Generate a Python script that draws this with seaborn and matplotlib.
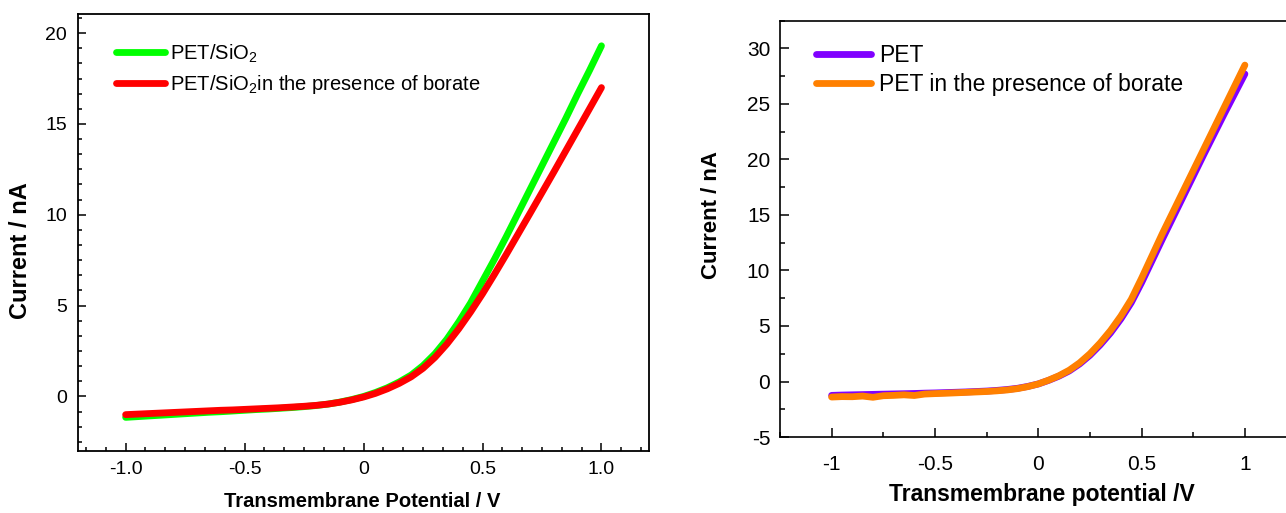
import matplotlib
matplotlib.use("Agg")
import matplotlib.pyplot as plt
import seaborn as sns
from matplotlib.ticker import FixedLocator, FixedFormatter, AutoMinorLocator

# ---- data -----------------------------------------------------------------
potential = [-1.00, -0.95, -0.90, -0.85, -0.80, -0.75, -0.70, -0.65, -0.60, -0.55,
             -0.50, -0.45, -0.40, -0.35, -0.30, -0.25, -0.20, -0.15, -0.10, -0.05,
             0.00, 0.05, 0.10, 0.15, 0.20, 0.25, 0.30, 0.35, 0.40, 0.45,
             0.50, 0.55, 0.60, 0.65, 0.70, 0.75, 0.80, 0.85, 0.90, 0.95, 1.00]

pet_sio2 = [-1.15, -1.11, -1.07, -1.03, -0.99, -0.95, -0.91, -0.87, -0.84, -0.80,
            -0.76, -0.72, -0.69, -0.65, -0.61, -0.56, -0.50, -0.42, -0.31, -0.17,
            0.00, 0.22, 0.48, 0.80, 1.18, 1.70, 2.35, 3.15, 4.10, 5.15,
            6.35, 7.55, 8.80, 10.10, 11.40, 12.70, 14.00, 15.30, 16.65, 17.95, 19.30]

pet_sio2_borate = [-1.00, -0.97, -0.94, -0.91, -0.88, -0.85, -0.82, -0.79, -0.76, -0.74,
                   -0.71, -0.68, -0.65, -0.62, -0.58, -0.54, -0.49, -0.42, -0.32, -0.19,
                   -0.03, 0.17, 0.42, 0.72, 1.08, 1.55, 2.15, 2.88, 3.72, 4.65,
                   5.65, 6.72, 7.82, 8.95, 10.08, 11.22, 12.36, 13.52, 14.68, 15.84, 17.00]

pet = [-1.25, -1.22, -1.20, -1.18, -1.16, -1.14, -1.12, -1.10, -1.08, -1.05,
       -1.03, -1.00, -0.97, -0.94, -0.90, -0.86, -0.80, -0.72, -0.61, -0.44,
       -0.22, 0.10, 0.48, 0.95, 1.58, 2.36, 3.30, 4.38, 5.64, 7.10,
       8.90, 10.85, 12.80, 14.70, 16.60, 18.50, 20.40, 22.25, 24.10, 25.90, 27.70]

pet_borate = [-1.40, -1.36, -1.37, -1.31, -1.42, -1.28, -1.25, -1.20, -1.26, -1.13,
              -1.09, -1.06, -1.02, -0.98, -0.94, -0.90, -0.84, -0.76, -0.64, -0.46,
              -0.22, 0.12, 0.52, 1.02, 1.68, 2.50, 3.48, 4.60, 5.90, 7.40,
              9.30, 11.30, 13.30, 15.20, 17.10, 19.00, 20.90, 22.80, 24.70, 26.60, 28.50]

left_xticks = [-1.0, -0.5, 0.0, 0.5, 1.0]
left_xticklabels = ["-1.0", "-0.5", "0", "0.5", "1.0"]
left_yticks = [0, 5, 10, 15, 20]
left_yticklabels = ["0", "5", "10", "15", "20"]
right_xticks = [-1.0, -0.5, 0.0, 0.5, 1.0]
right_xticklabels = ["-1", "-0.5", "0", "0.5", "1"]
right_yticks = [-5, 0, 5, 10, 15, 20, 25, 30]
right_yticklabels = ["-5", "0", "5", "10", "15", "20", "25", "30"]

# ---- style ----------------------------------------------------------------
sns.set_theme(style="white")
plt.rcParams["font.family"] = ["Liberation Sans", "DejaVu Sans"]
plt.rcParams["mathtext.fontset"] = "custom"
plt.rcParams["mathtext.rm"] = "Liberation Sans"
plt.rcParams["mathtext.it"] = "Liberation Sans:italic"
plt.rcParams["mathtext.bf"] = "Liberation Sans:bold"
plt.rcParams["axes.unicode_minus"] = False
for key in ("text.color", "axes.labelcolor", "xtick.color", "ytick.color", "axes.edgecolor"):
    plt.rcParams[key] = "black"

fig = plt.figure(figsize=(12.86, 5.13), dpi=100)
ax1 = fig.add_axes([0.0607, 0.1209, 0.4440, 0.8518])
ax2 = fig.add_axes([0.6065, 0.1481, 0.4017, 0.8116])

line_kw = dict(linewidth=4.9, solid_capstyle="round", errorbar=None, sort=False)

# ---- left panel: PET/SiO2 --------------------------------------------------
sns.lineplot(x=potential, y=pet_sio2, ax=ax1, color="#00ff00",
             label="PET/SiO$_2$", **line_kw)
sns.lineplot(x=potential, y=pet_sio2_borate, ax=ax1, color="#ff0000",
             label="PET/SiO$_2$in the presence of borate", **line_kw)

ax1.set_xlim(-1.2, 1.2)
ax1.set_ylim(-3.0, 21.05)
ax1.xaxis.set_major_locator(FixedLocator(left_xticks))
ax1.xaxis.set_major_formatter(FixedFormatter(left_xticklabels))
ax1.yaxis.set_major_locator(FixedLocator(left_yticks))
ax1.yaxis.set_major_formatter(FixedFormatter(left_yticklabels))
ax1.xaxis.set_minor_locator(AutoMinorLocator(6))
ax1.yaxis.set_minor_locator(AutoMinorLocator(6))
ax1.tick_params(which="both", direction="in", width=1.1, colors="black",
                bottom=True, left=True, top=False, right=False)
ax1.tick_params(which="major", length=5.5, labelsize=14)
ax1.tick_params(which="minor", length=3)
ax1.tick_params(axis="x", which="major", pad=7)
ax1.tick_params(axis="y", which="major", pad=8)
for s in ax1.spines.values():
    s.set_color("black")
    s.set_linewidth(1.3)

ax1.set_xlabel("Transmembrane Potential / V", fontsize=14.5, fontweight="bold", va="center")
ax1.set_ylabel("Current / nA", fontsize=17, fontweight="bold", va="center")
ax1.xaxis.set_label_coords(0.497, -0.115)
ax1.yaxis.set_label_coords(-0.100, 0.458)

ax1.legend(loc="upper left", bbox_to_anchor=(0.0665, 0.935), frameon=False,
           fontsize=14.5, handlelength=2.45, handletextpad=0.25,
           labelspacing=0.42, borderpad=0, borderaxespad=0)

# ---- right panel: PET ------------------------------------------------------
sns.lineplot(x=potential, y=pet, ax=ax2, color="#8000ff",
             label="PET", **line_kw)
sns.lineplot(x=potential, y=pet_borate, ax=ax2, color="#ff8000",
             label="PET in the presence of borate", **line_kw)

ax2.set_xlim(-1.25, 1.25)
ax2.set_ylim(-5, 32.5)
ax2.xaxis.set_major_locator(FixedLocator(right_xticks))
ax2.xaxis.set_major_formatter(FixedFormatter(right_xticklabels))
ax2.yaxis.set_major_locator(FixedLocator(right_yticks))
ax2.yaxis.set_major_formatter(FixedFormatter(right_yticklabels))
ax2.xaxis.set_minor_locator(AutoMinorLocator(2))
ax2.yaxis.set_minor_locator(AutoMinorLocator(2))
ax2.tick_params(which="both", direction="in", width=1.1, colors="black",
                bottom=True, left=True, top=False, right=False)
ax2.tick_params(which="major", length=6.5, labelsize=15)
ax2.tick_params(which="minor", length=3.4)
ax2.tick_params(axis="x", which="major", pad=13)
ax2.tick_params(axis="y", which="major", pad=7)
for s in ax2.spines.values():
    s.set_color("black")
    s.set_linewidth(1.2)

ax2.set_xlabel("Transmembrane potential /V", fontsize=16.5, fontweight="bold", va="center")
ax2.set_ylabel("Current / nA", fontsize=16, fontweight="bold", va="center")
ax2.xaxis.set_label_coords(0.507, -0.139)
ax2.yaxis.set_label_coords(-0.132, 0.533)

ax2.legend(loc="upper left", bbox_to_anchor=(0.0697, 0.945), frameon=False,
           fontsize=16.5, handlelength=2.4, handletextpad=0.36,
           labelspacing=0.3, borderpad=0, borderaxespad=0)

fig.savefig("out.png", dpi=100)
